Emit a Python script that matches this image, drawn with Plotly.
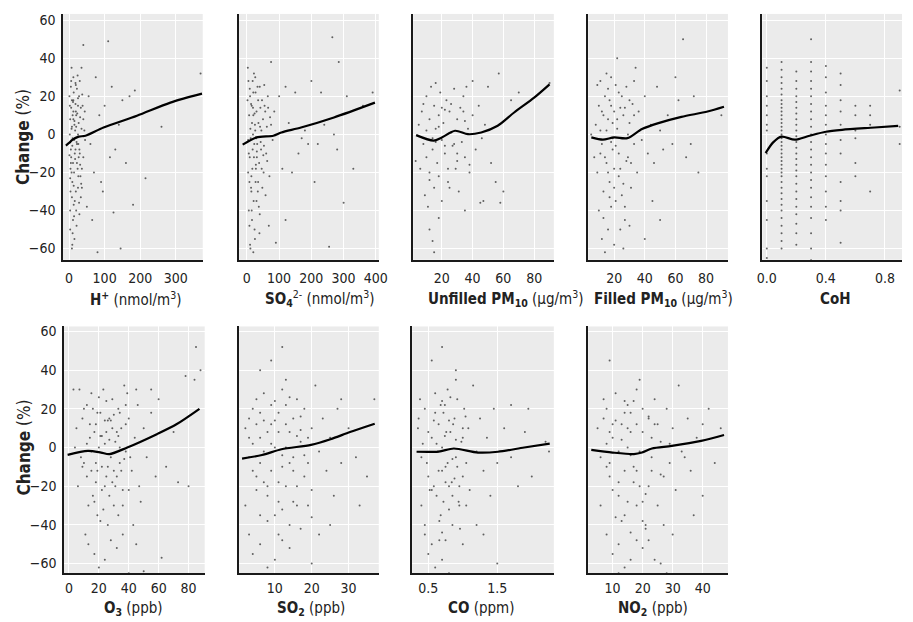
import plotly.graph_objects as go

# ---------------- data ----------------
# Panel 1: H+ (nmol/m3)
h_x = [5,8,12,3,15,20,25,10,18,6,22,14,30,9,4,16,26,35,28,12,7,20,11,3,15,8,25,32,40,45,38,2,17,24,13,19,6,30,40,10,50,35,22,5,27,14,8,33,18,11,1,21,29,36,44,16,7,25,12,3,
       55,60,70,75,80,85,90,100,110,115,120,130,140,150,160,170,185,180,215,260,370,40,65,95,125,145,
       2,4,6,9,11,13,15,17,19,21,23,26,28,31,34,37,41,3,7,10,14,18,22,27,33,5,9,12,16,20,24,29,36,43,1,8,13,19,25,31]
h_y = [25,18,12,8,5,10,15,-2,-8,-12,-15,-20,-10,-25,-30,-35,-5,3,20,30,35,-40,-45,-50,-55,-60,-28,-22,8,-3,15,0,2,-18,22,-30,14,28,-12,-52,-38,35,24,-8,6,-3,4,-33,16,-15,20,-48,-42,-18,12,-10,-20,0,8,-40,
       20,-5,-20,30,-62,10,-25,15,49,-12,25,-8,5,18,-15,20,23,-37,-23,4,32,47,-45,-30,-41,-60,
       15,-18,28,-6,17,-27,7,-13,26,-4,11,-22,-36,9,-26,21,-1,-23,3,10,-43,27,-5,-12,14,-15,-58,18,-2,4,31,-8,-28,2,-11,-33,-37,12,19,-16]
h_sx = [-9, 0, 10, 27, 46, 97, 191, 285, 374]
h_sy = [-5.9, -4.5, -2.8, -1.2, -0.7, 3.6, 9.8, 16.7, 21.4]

# Panel 2: SO4 2- (nmol/m3)
s4_x = [5,10,15,20,25,30,35,40,12,18,22,28,8,14,32,38,45,50,55,60,65,70,75,80,85,6,16,24,10,20,30,40,48,3,26,44,52,36,20,11,17,29,33,42,7,58,62,68,27,13,21,9,39,47,19,31,54,4,37,25,
        100,110,120,130,140,150,160,170,180,190,200,210,220,230,240,255,265,270,280,285,300,310,330,360,390,120,90,75,
        2,6,9,13,16,19,23,27,31,35,41,46,53,57,63,72,4,8,14,18,24,28,34,43,51,66,11,15,22,26]
s4_y = [28,20,15,10,5,12,18,25,-2,-8,-12,-18,-25,-30,-5,-15,2,8,15,-10,20,-22,5,-3,12,-40,-45,-50,-58,-62,-35,-42,-28,35,30,-8,-20,6,22,3,-18,-2,25,14,10,-32,4,-48,-25,16,-35,-12,-52,18,0,-9,26,-20,-38,-55,
        20,-18,25,6,-20,22,-10,-2,2,-5,28,-25,-5,22,5,-59,51,0,-8,38,-36,20,-18,15,22,-45,-57,38,
        18,-10,24,-28,6,14,-5,22,-12,-25,4,-18,-6,12,-14,9,-3,-48,-22,28,11,-16,-30,-4,-11,14,-60,-40,32,2]
s4_sx = [-13, 30, 82, 107, 168, 270, 397]
s4_sy = [-5.4, -1.6, -0.7, 1.0, 3.6, 8.9, 16.7]

# Panel 3: Unfilled PM10 (ug/m3)
u_x = [5,7,8,10,10,12,12,13,14,15,15,16,17,18,18,19,20,21,22,23,24,25,26,27,28,29,30,31,32,33,34,35,36,37,38,40,42,44,46,48,50,52,55,57,58,47,65,90,40,35,12,14,15,9,6,11,20,25,28,8,16,22,30,35,45,60,70,3,18,
       10,14,18,22,26,30,34,38,12,16,20,24]
u_y = [5,12,-5,20,-12,8,-20,25,-8,15,-28,3,-15,10,-22,22,-3,6,-10,18,-25,12,1,-6,24,-18,8,-30,14,-4,20,-12,25,3,-20,10,-8,15,-2,5,25,-15,-25,32,-36,-35,18,27,28,-40,-50,-56,-62,-32,-18,-38,-35,-28,-5,16,27,13,-14,7,-36,-30,22,-14,-44,
       2,-2,4,-6,16,-10,12,-16,-24,-4,14,-18]
u_sx = [3.3, 14.7, 20, 28.6, 37, 45.6, 56.3, 67, 80, 90]
u_sy = [-0.4, -3.3, -1.6, 1.9, 0.1, 1.0, 4.5, 11.5, 19.3, 26.3]

# Panel 4: Filled PM10 (ug/m3)
f_x = [8,10,12,14,15,16,17,18,19,20,21,22,23,24,25,26,27,28,29,30,31,32,33,34,35,10,12,14,16,18,20,22,11,13,15,17,19,21,23,25,27,29,9,11,13,36,38,40,42,44,46,48,50,52,55,58,45,50,40,60,62,65,67,70,72,75,90,5,7,30,26,33,24,
       12,14,16,18,20,22,24,26,28,30,15,17,19,21,23,25,27,13,11,9,31,33,20,18,16]
f_y = [5,15,-5,20,-15,8,-25,30,-8,12,-35,3,22,-18,-2,10,-45,25,-12,6,-28,16,-5,35,-20,-40,-55,-62,-50,-38,-58,40,28,-30,2,18,-2,26,-10,-32,14,0,-20,-10,10,12,-3,20,-10,5,-15,25,2,-8,10,-5,-35,-45,-55,30,18,50,-12,-5,20,-20,10,0,-12,-48,-60,28,-50,
       12,-12,24,-4,-18,8,14,-26,-14,18,32,-33,6,-6,-22,20,-38,-44,2,26,-15,10,-28,15,-20]
f_sx = [5.1, 12.6, 20, 28.6, 38.2, 48.9, 63.9, 81, 91.7]
f_sy = [-1.6, -2.8, -1.6, -2.0, 2.8, 5.9, 9.2, 12.0, 14.5]

# Panel 5: CoH (discrete values)
coh_levels = [0.0, 0.1, 0.2, 0.3, 0.4, 0.5, 0.6, 0.7, 0.9]
coh_y = [
    [35,28,20,15,10,5,2,-10,-18,-22,-35,-45,-60,-65],
    [38,34,30,27,24,21,18,16,14,12,10,8,6,4,2,0,-2,-4,-6,-8,-10,-12,-14,-16,-18,-20,-22,-25,-28,-31,-34,-37,-40,-44,-48,-52,-56,-60],
    [33,28,24,20,17,14,11,8,5,2,-1,-4,-7,-10,-13,-16,-19,-22,-26,-30,-34,-38,-42,-47,-52,-58],
    [50,38,33,28,24,20,16,12,8,4,0,-4,-8,-12,-16,-20,-24,-28,-33,-38,-44,-52,-60,-66],
    [36,30,22,15,10,5,0,-5,-10,-16,-22,-30,-38,-45],
    [32,26,18,12,5,-3,-10,-25,-35,-40,-57],
    [15,10,2,-2,-15,-22],
    [15,10,5,-30],
    [23,4,-5],
]
coh_sx = [-0.008, 0.043, 0.1, 0.19, 0.29, 0.4, 0.51, 0.73, 0.89]
coh_sy = [-9.8, -4.2, -1.2, -2.8, -0.7, 1.4, 2.4, 3.6, 4.5]

# Panel 6: O3 (ppb)
o_x = [5,8,10,12,14,15,16,18,19,20,21,22,23,24,25,26,27,28,29,30,31,32,33,34,35,36,37,38,40,42,44,46,48,50,52,55,58,60,11,13,17,20,24,28,32,36,7,9,13,17,21,25,29,33,39,43,47,6,4,3,12,18,22,26,30,34,38,15,19,27,41,45,62,65,70,73,78,80,85,88,84,50,40,55,45,
       10,14,16,18,20,22,24,26,28,30,32,34,36,38,12,17,21,23,27,31,35,40,9,15,19,25,29,33,37,24]
o_y = [10,-5,20,-15,5,28,-25,12,-35,0,18,-10,30,-20,8,-40,15,-5,25,-30,3,-15,20,-8,10,-22,32,-2,15,-12,5,22,-28,10,-5,18,-15,25,-45,-50,-55,-62,-58,-48,-52,-45,30,15,-30,8,-38,24,-18,-35,28,-40,-20,-20,0,30,22,-8,6,14,17,0,12,-12,18,-25,-5,-50,-57,-10,8,-18,37,-20,52,40,35,-64,-65,30,30,
       -8,12,20,-18,26,-22,2,-10,14,-12,8,18,-30,22,2,-28,6,-32,4,-20,-12,-22,-10,-2,-12,-15,10,6,-6,14]
o_sx = [-0.9, 12.7, 21.5, 27, 39, 58.8, 71.9, 87.3]
o_sy = [-3.8, -1.7, -2.6, -3.4, 0.0, 6.9, 12.0, 20.0]

# Panel 7: SO2 (ppb)
s2_x = [2,3,4,5,6,7,8,9,10,10,11,12,12,13,14,14,15,15,16,16,17,18,18,19,20,20,21,22,2,3,4,6,8,10,12,14,5,6,7,8,9,11,13,17,19,4,5,7,9,11,13,15,17,3,23,24,25,26,27,28,30,32,35,37,22,25,20,6,9,12,33,28,
        3,5,7,9,11,13,15,17,19,4,6,8,10,12,14,16,18,20,10,12,14,8,6,16,13,11]
s2_y = [10,-5,20,-15,5,28,-25,12,-35,0,18,-10,30,-20,8,-40,15,-5,25,-30,3,-15,20,-8,10,-22,32,-2,-30,-45,-55,-50,-62,-58,-48,-52,25,-8,14,-38,22,-18,35,-42,5,2,-22,-2,-12,8,12,-28,16,15,15,-12,5,-25,20,-8,10,-5,-15,25,-45,-40,-60,40,45,52,-30,25,
        5,12,-18,2,-28,22,-12,9,-30,-12,18,-20,24,-32,-8,6,-4,-36,14,-4,26,8,-35,-20,0,-45]
s2_sx = [1.1, 6.5, 11.8, 19.8, 25.1, 30.4, 37.1]
s2_sy = [-5.7, -3.9, -0.9, 1.4, 4.3, 8.0, 12.3]

# Panel 8: CO (ppm)
co_x = [0.35,0.4,0.45,0.5,0.55,0.6,0.62,0.65,0.68,0.7,0.72,0.75,0.78,0.8,0.82,0.85,0.88,0.9,0.92,0.95,0.98,1.0,1.02,1.05,1.08,1.1,1.15,1.2,0.4,0.45,0.5,0.55,0.6,0.7,0.75,0.8,0.38,0.48,0.58,0.66,0.74,0.84,0.9,0.96,1.0,0.42,0.52,0.64,0.7,0.76,0.86,0.94,1.04,0.36,1.25,1.3,1.35,1.4,1.45,1.5,1.6,1.7,1.8,2.0,1.3,1.2,1.5,0.55,0.7,0.9,1.9,2.25,2.2,1.7,1.95,1.0,
        0.5,0.55,0.6,0.65,0.7,0.75,0.8,0.85,0.9,0.95,1.0,1.05,0.62,0.68,0.72,0.78,0.82,0.88,0.58,0.66,0.74,0.8,0.92,0.45,0.7,0.85]
co_y = [10,-5,20,-15,5,28,-25,12,-35,0,18,-10,30,-20,8,-40,15,-5,25,-30,3,-15,20,-8,10,-22,32,-2,-30,-45,-55,-50,-62,-58,-48,-65,25,-8,14,-38,22,-18,35,-42,5,2,-22,-2,-12,8,12,-28,16,15,15,-12,5,-25,20,-8,10,-5,-20,-15,-45,-40,-60,45,52,40,8,-2,3,22,20,-50,
        8,-22,18,-12,24,-18,14,-6,4,-20,10,-30,2,22,-28,-8,26,-16,-20,-48,6,-32,-10,-40,-44,-25]
co_sx = [0.33, 0.65, 0.87, 1.22, 1.51, 1.89, 2.26]
co_sy = [-2.2, -2.1, -0.5, -2.6, -2.2, 0.0, 2.0]

# Panel 9: NO2 (ppb)
n_x = [5,6,8,9,10,11,12,13,14,15,16,17,18,19,20,21,22,23,24,25,26,27,28,29,30,31,32,33,6,8,10,12,14,16,18,20,7,9,11,13,15,17,19,21,23,8,10,12,14,16,18,20,22,7,35,36,38,40,42,44,46,34,37,30,26,9,12,28,24,40,15,
       8,10,12,14,16,18,20,22,24,26,13,15,17,19,21,23,25,27,11,9,29,18,20,22,16,14]
n_y = [10,-5,20,-15,5,28,-25,12,-35,0,18,-10,30,-20,8,-40,15,-5,25,-30,3,-15,20,-8,10,-22,32,-2,-30,-45,-55,-50,-62,-58,-48,-52,25,-8,14,-38,22,-18,35,-42,5,2,-22,-2,-12,8,12,-28,16,15,15,-12,5,-25,20,-8,10,-5,-35,-45,-60,45,-65,-65,-58,12,-28,
       -10,12,-18,18,-4,-12,20,-20,12,-14,4,10,24,-2,-24,-12,12,-40,-36,8,2,-30,-38,-48,-44,24]
n_sx = [2.9, 10, 17.1, 19.8, 23.1, 29.7, 39.5, 47.1]
n_sy = [-1.2, -2.6, -3.4, -2.6, -0.5, 0.8, 3.4, 6.5]

y_ticks = [-60, -40, -20, 0, 20, 40, 60]

# --------------- layout geometry ---------------
W, H = 913, 622
FONT = "DejaVu Sans Condensed, Liberation Sans Narrow, Roboto, sans-serif"

coh_x = []
coh_yy = []
for lv, ys in zip(coh_levels, coh_y):
    coh_x += [lv] * len(ys)
    coh_yy += ys

panels = [
    dict(x=h_x, y=h_y, sx=h_sx, sy=h_sy, px=(58, 200), row=1, rng=[-17, 376], tv=[0, 100, 200, 300], tt=None,
         title="<b>H<sup>+</sup></b> (nmol/m<sup>3</sup>)", tc=132),
    dict(x=s4_x, y=s4_y, sx=s4_sx, sy=s4_sy, px=(237, 379), row=1, rng=[-24, 409], tv=[0, 100, 200, 300, 400], tt=None,
         title="<b>SO<sub>4</sub></b><sup>2-</sup> (nmol/m<sup>3</sup>)", tc=319),
    dict(x=u_x, y=u_y, sx=u_sx, sy=u_sy, px=(414, 557), row=1, rng=[1.4, 92.8], tv=[20, 40, 60, 80], tt=None,
         title="<b>Unfilled PM<sub>10</sub></b> (µg/m<sup>3</sup>)", tc=508),
    dict(x=f_x, y=f_y, sx=f_sx, sy=f_sy, px=(592, 734), row=1, rng=[3.1, 94.3], tv=[20, 40, 60, 80], tt=None,
         title="<b>Filled PM<sub>10</sub></b> (µg/m<sup>3</sup>)", tc=668),
    dict(x=coh_x, y=coh_yy, sx=coh_sx, sy=coh_sy, px=(769, 911), row=1, rng=[-0.03, 0.916], tv=[0, 0.4, 0.8],
         tt=["0.0", "0.4", "0.8"], title="<b>CoH</b>", tc=843),
    dict(x=o_x, y=o_y, sx=o_sx, sy=o_sy, px=(59, 202), row=2, rng=[-3.3, 90.8], tv=[0, 20, 40, 60, 80], tt=None,
         title="<b>O<sub>3</sub></b> (ppb)", tc=130),
    dict(x=s2_x, y=s2_y, sx=s2_sx, sy=s2_sy, px=(237, 379), row=2, rng=[0.3, 38.2], tv=[10, 20, 30], tt=None,
         title="<b>SO<sub>2</sub></b> (ppb)", tc=310),
    dict(x=co_x, y=co_y, sx=co_sx, sy=co_sy, px=(413, 557), row=2, rng=[0.267, 2.32], tv=[0.5, 1.5], tt=None,
         title="<b>CO</b> (ppm)", tc=483),
    dict(x=n_x, y=n_y, sx=n_sx, sy=n_sy, px=(592, 734), row=2, rng=[1.9, 48.4], tv=[10, 20, 30, 40], tt=None,
         title="<b>NO<sub>2</sub></b> (ppb)", tc=658),
]

rows = {1: dict(top=11, bot=258, yr=[-65.9, 63.3], title_y=297, ylab_c=135, stand=5),
        2: dict(top=325, bot=573, yr=[-65.0, 62.6], title_y=608, ylab_c=447, stand=1)}

fig = go.Figure()
layout = {}
annotations = []

for i, p in enumerate(panels, start=1):
    xa = "x" if i == 1 else f"x{i}"
    ya = "y" if i == 1 else f"y{i}"
    r = rows[p["row"]]
    fig.add_trace(go.Scatter(
        x=p["x"], y=p["y"], mode="markers", xaxis=xa, yaxis=ya,
        marker=dict(size=2, color="rgba(20,20,20,0.65)", line=dict(width=0)),
        hoverinfo="skip", showlegend=False))
    fig.add_trace(go.Scatter(
        x=p["sx"], y=p["sy"], mode="lines", xaxis=xa, yaxis=ya,
        line=dict(color="black", width=2.2, shape="spline", smoothing=0.8),
        hoverinfo="skip", showlegend=False))
    xkey = "xaxis" if i == 1 else f"xaxis{i}"
    ykey = "yaxis" if i == 1 else f"yaxis{i}"
    left_col = i in (1, 6)
    layout[xkey] = dict(
        domain=[p["px"][0] / W, p["px"][1] / W], anchor=ya, range=p["rng"],
        tickvals=p["tv"], ticktext=p["tt"] if p["tt"] else [str(v) for v in p["tv"]],
        showgrid=True, gridcolor="white", gridwidth=1.3, zeroline=False,
        showline=True, linecolor="#1a1a1a", linewidth=1.6, ticks="",
        tickfont=dict(family=FONT, size=14, color="#222"), ticklabelstandoff=r["stand"],
        fixedrange=True)
    layout[ykey] = dict(
        domain=[1 - r["bot"] / H, 1 - r["top"] / H], anchor=xa, range=r["yr"],
        tickvals=y_ticks, showticklabels=left_col,
        showgrid=True, gridcolor="white", gridwidth=1.3, zeroline=False,
        showline=True, linecolor="#1a1a1a", linewidth=1.6, ticks="",
        tickfont=dict(family=FONT, size=14, color="#222"), ticklabelstandoff=3,
        fixedrange=True)
    annotations.append(dict(
        text=p["title"], x=p["tc"] / W, y=1 - r["title_y"] / H, xref="paper", yref="paper",
        xanchor="center", yanchor="middle", showarrow=False,
        font=dict(family=FONT, size=15, color="#222")))

for rk, r in rows.items():
    annotations.append(dict(
        text="<b>Change</b> (%)", x=18 / W, y=1 - r["ylab_c"] / H, xref="paper", yref="paper",
        xanchor="center", yanchor="middle", textangle=-90, showarrow=False,
        font=dict(family=FONT, size=17, color="#222")))

fig.update_layout(
    width=W, height=H, margin=dict(l=0, r=0, t=0, b=0),
    paper_bgcolor="white", plot_bgcolor="#ebebeb",
    annotations=annotations, showlegend=False, **layout)

fig.write_html("out.html")
